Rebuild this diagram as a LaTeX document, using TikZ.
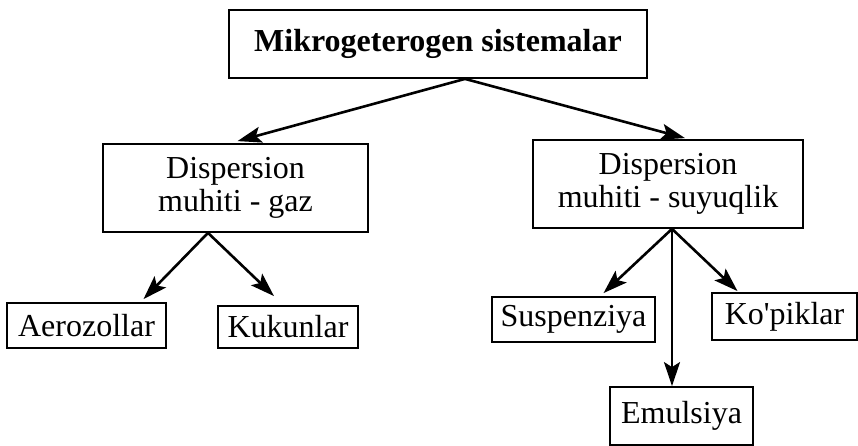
\documentclass[tikz,border=0pt]{standalone}
\usepackage{fontspec}
\setmainfont{Liberation Serif}
\usetikzlibrary{arrows.meta}
\tikzset{
  box/.style={draw=black, line width=1.8pt, inner sep=0pt, align=center,
    font=\fontsize{32}{33}\selectfont},
  topbox/.style={box, font=\fontsize{32}{33}\selectfont\bfseries},
  link/.style={line width=2.6pt, -{Stealth[length=24pt,width=16pt,inset=5pt]}},
}
\begin{document}
\begin{tikzpicture}[x=1pt,y=-1pt]
\useasboundingbox (0,0) rectangle (858,446);
\node[topbox, minimum width=418pt, minimum height=68pt] (top) at (438,44) {Mikrogeterogen sistemalar};
\node[box, minimum width=265pt, minimum height=88pt] (gas) at (235.5,188) {Dispersion\\muhiti - gaz};
\node[box, minimum width=270pt, minimum height=88pt] (liq) at (668,184) {Dispersion\\muhiti - suyuqlik};
\node[box, minimum width=159pt, minimum height=45pt] (aero) at (86.5,325.5) {Aerozollar};
\node[box, minimum width=140pt, minimum height=42pt] (kuku) at (288,327) {Kukunlar};
\node[box, minimum width=163pt, minimum height=45pt] (susp) at (573.5,319.5) {Suspenziya};
\node[box, minimum width=145pt, minimum height=47pt] (kopi) at (784.5,316.5) {Ko\textquotesingle piklar};
\node[box, minimum width=143pt, minimum height=58pt] (emul) at (681.5,416) {Emulsiya};
% arrows
\draw[link] ([xshift=27pt]top.south) -- ([xshift=2pt,yshift=2pt]gas.north);
\draw[link] ([xshift=27pt]top.south) -- ([xshift=17pt,yshift=1pt]liq.north);
\draw[link] ([xshift=-27.5pt]gas.south) -- ([xshift=57pt,yshift=3pt]aero.north);
\draw[link] ([xshift=-27.5pt]gas.south) -- ([xshift=-14pt,yshift=9pt]kuku.north);
\draw[link] ([xshift=4pt]liq.south) -- ([xshift=30pt,yshift=3pt]susp.north);
\draw[link] ([xshift=4pt]liq.south) -- ([xshift=-47pt,yshift=1pt]kopi.north);
\draw[link] ([xshift=4pt]liq.south) -- ([xshift=4pt]liq.south |- emul.north);
\end{tikzpicture}
\end{document}
